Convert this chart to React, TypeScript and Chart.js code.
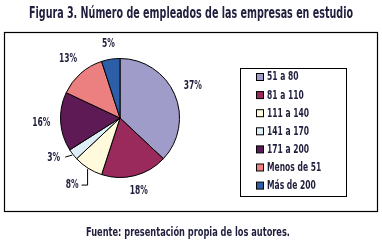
import React, { useEffect, useRef } from "react";
import { Chart, registerables } from "chart.js";

Chart.register(...registerables);

const titleText = "Figura 3. Número de empleados de las empresas en estudio";
const footerText = "Fuente: presentación propia de los autores.";
const categories = ["51 a 80", "81 a 110", "111 a 140", "141 a 170", "171 a 200", "Menos de 51", "Más de 200"];
const shares = [37, 18, 8, 3, 16, 13, 5];
const sliceColors = ["#a09cc9", "#9a2a5c", "#fffadb", "#ddeef7", "#5e1a55", "#ec7f7f", "#2c5fa8"];

const FONT = "'DejaVu Sans', sans-serif";
const INK = "#1f1f3d";
const SQUEEZE = 0.66;

function setFont(ctx: any, size: number) {
  ctx.font = `bold ${size}px ${FONT}`;
}

function narrowText(ctx: CanvasRenderingContext2D, txt: string, x: number, y: number) {
  const w = ctx.measureText(txt).width;
  ctx.fillText(txt, x, y, w * SQUEEZE);
  return w * SQUEEZE;
}

const decorPlugin = {
  id: "decor",
  afterDraw(chart: any) {
    const ctx = chart.ctx as CanvasRenderingContext2D;
    ctx.save();
    // outer frame
    ctx.strokeStyle = "#000";
    ctx.lineWidth = 1.2;
    ctx.strokeRect(4.5, 32.5, 373, 179);
    // title
    ctx.fillStyle = INK;
    ctx.textAlign = "center";
    ctx.textBaseline = "middle";
    setFont(ctx, 15);
    ctx.fillText(titleText, 191, 14, 324);
    // footer
    setFont(ctx, 12.5);
    ctx.fillText(footerText, 188, 233, 204);
    // legend box
    ctx.lineWidth = 1;
    ctx.strokeRect(240.5, 68.5, 106, 128);
    setFont(ctx, 11.5);
    ctx.textAlign = "left";
    categories.forEach((lab, i) => {
      const y = 77 + i * 18.1;
      ctx.fillStyle = sliceColors[i];
      ctx.fillRect(256.5, y - 3.5, 7, 7);
      ctx.strokeStyle = "#000";
      ctx.strokeRect(256.5, y - 3.5, 7, 7);
      ctx.fillStyle = INK;
      narrowText(ctx, lab, 267, y + 0.5);
    });
    // percentage labels
    const meta = chart.getDatasetMeta(0);
    setFont(ctx, 11.5);
    meta.data.forEach((arc: any, i: number) => {
      const mid = (arc.startAngle + arc.endAngle) / 2;
      const dx = Math.cos(mid);
      const dy = Math.sin(mid);
      const r = arc.outerRadius;
      const txt = shares[i] + "%";
      const w = ctx.measureText(txt).width * SQUEEZE;
      if (shares[i] < 10 && dx < 0 && dy > 0) {
        const sx = arc.x + dx * (r + 1);
        const sy = arc.y + dy * (r + 1);
        ctx.strokeStyle = "#000";
        ctx.lineWidth = 1;
        ctx.beginPath();
        ctx.moveTo(sx, sy);
        let lx: number, ly: number;
        if (Math.abs(dy) > Math.abs(dx)) {
          ctx.lineTo(sx, sy + 16);
          ctx.lineTo(sx - 6, sy + 16);
          lx = sx - 9;
          ly = sy + 16;
        } else {
          ctx.lineTo(sx - 7, sy + 2);
          lx = sx - 12;
          ly = sy + 3;
        }
        ctx.stroke();
        ctx.textAlign = "right";
        ctx.fillStyle = INK;
        narrowText(ctx, txt, lx, ly);
      } else {
        const d = r + 10 + Math.abs(dx) * w / 2 + Math.abs(dy) * 4;
        ctx.textAlign = "center";
        ctx.fillStyle = INK;
        narrowText(ctx, txt, arc.x + dx * d, arc.y + dy * d);
      }
    });
    ctx.restore();
  },
};

export default function App() {
  const ref = useRef<HTMLCanvasElement | null>(null);
  useEffect(() => {
    if (!ref.current) return;
    const chart = new Chart(ref.current, {
      type: "pie",
      data: {
        labels: categories,
        datasets: [
          {
            data: shares,
            backgroundColor: sliceColors,
            borderColor: "#000",
            borderWidth: 1,
          },
        ],
      },
      options: {
        responsive: false,
        animation: false,
        layout: { padding: { left: 60, top: 58, right: 202, bottom: 69 } },
        plugins: {
          legend: { display: false },
          tooltip: { enabled: false },
          title: { display: false },
        },
      },
      plugins: [decorPlugin],
    });
    return () => chart.destroy();
  }, []);
  return (
    <div style={{ position: "absolute", left: 0, top: 0, width: 382, height: 247, background: "#fff" }}>
      <canvas ref={ref} width={382} height={247} style={{ display: "block" }} />
    </div>
  );
}
